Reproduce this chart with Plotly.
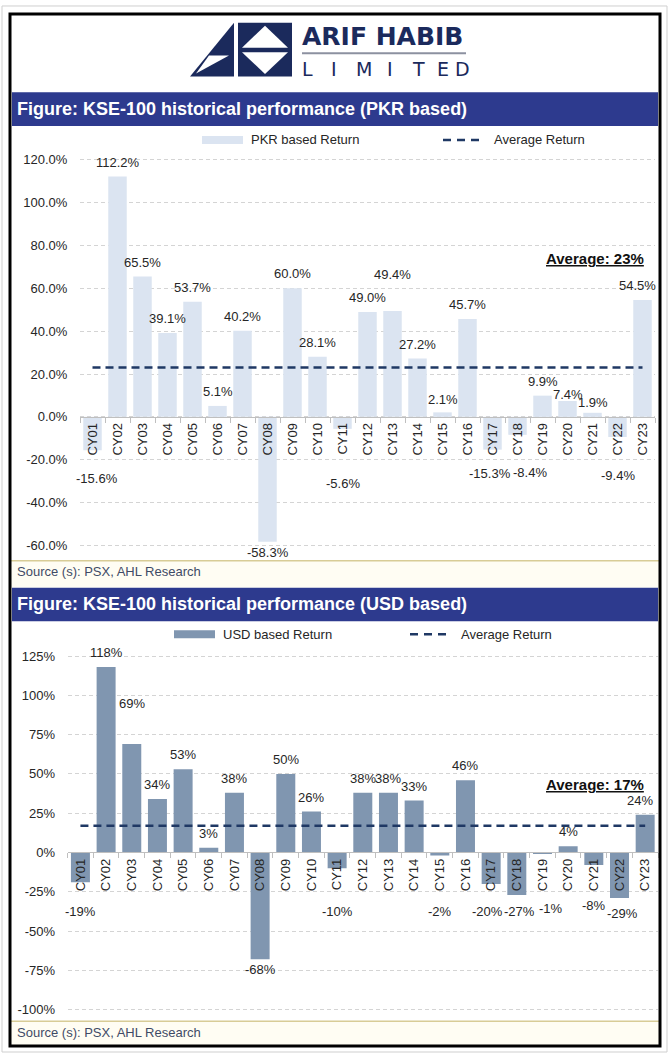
import plotly.graph_objects as go

# ---------------- data ----------------
categories = ["CY01", "CY02", "CY03", "CY04", "CY05", "CY06", "CY07", "CY08",
              "CY09", "CY10", "CY11", "CY12", "CY13", "CY14", "CY15", "CY16",
              "CY17", "CY18", "CY19", "CY20", "CY21", "CY22", "CY23"]
pkr_returns = [-15.6, 112.2, 65.5, 39.1, 53.7, 5.1, 40.2, -58.3, 60.0, 28.1, -5.6,
               49.0, 49.4, 27.2, 2.1, 45.7, -15.3, -8.4, 9.9, 7.4, 1.9, -9.4, 54.5]
usd_returns = [-19, 118, 69, 34, 53, 3, 38, -68, 50, 26, -10,
               38, 38, 33, -2, 46, -20, -27, -1, 4, -8, -29, 24]
pkr_average = 23
usd_average = 17
pkr_ticks = [-60, -40, -20, 0, 20, 40, 60, 80, 100, 120]
usd_ticks = [-100, -75, -50, -25, 0, 25, 50, 75, 100, 125]

title_pkr = "Figure: KSE-100 historical performance (PKR based)"
title_usd = "Figure: KSE-100 historical performance (USD based)"
legend_pkr = "PKR based Return"
legend_usd = "USD based Return"
legend_avg = "Average Return"
source_text = "Source (s): PSX, AHL Research"

# label nudges (pixels: dx, dy) to mimic hand-placed labels in the original
pkr_label_nudge = {"CY13": (0, 22), "CY17": (-3, 2), "CY18": (12, 3), "CY11": (0, -8),
                   "CY01": (4, -3), "CY20": (0, -8), "CY21": (0, -4), "CY15": (0, -2),
                   "CY23": (-5, 0)}
usd_label_nudge = {"CY03": (0, 26), "CY17": (-4, 0), "CY18": (3, 0), "CY19": (9, 3),
                   "CY21": (0, 6), "CY22": (3, -2), "CY23": (-5, 0)}

# ---------------- styling ----------------
W, H = 669, 1058
FONT = "Liberation Sans, Arial, sans-serif"
NAVY = "#1b2a5c"
BAR_BLUE = "#2d3a8e"
PKR_COLOR = "#dbe4f1"
USD_COLOR = "#8096b0"
AVG_COLOR = "#1f3864"
TXT = "#262626"
GRID = "#d4d4d4"


def fx(px):
    return px / W


def fy(py):
    return 1 - py / H


def ppath(points):
    return "M " + " L ".join(f"{fx(x):.5f},{fy(y):.5f}" for x, y in points) + " Z"


# chart geometry (pixel space)
c1 = dict(x0=80, x1=655, rmin=-62, rmax=122, ytop=157 - 2 * 388.5 / 180, ybot=545.5 + 2 * 388.5 / 180)
c2 = dict(x0=67.6, x1=658, rmin=-102, rmax=127, ytop=657 - 2 * 356.3 / 225, ybot=1013.3 + 2 * 356.3 / 225)

fig = go.Figure()

fig.add_trace(go.Bar(x=categories, y=pkr_returns, marker_color=PKR_COLOR, marker_line_width=0,
                     xaxis="x", yaxis="y", showlegend=False, hoverinfo="skip"))
fig.add_trace(go.Scatter(x=categories, y=[pkr_average] * len(categories), mode="lines",
                         line=dict(color=AVG_COLOR, width=2.5, dash="8px,5px"),
                         xaxis="x", yaxis="y", showlegend=False, hoverinfo="skip"))
fig.add_trace(go.Bar(x=categories, y=usd_returns, marker_color=USD_COLOR, marker_line_width=0,
                     xaxis="x2", yaxis="y2", showlegend=False, hoverinfo="skip"))
fig.add_trace(go.Scatter(x=categories, y=[usd_average] * len(categories), mode="lines",
                         line=dict(color=AVG_COLOR, width=2.5, dash="8px,5px"),
                         xaxis="x2", yaxis="y2", showlegend=False, hoverinfo="skip"))


def ydom(c):
    return [fy(c["ybot"]), fy(c["ytop"])]


def zero_pos(c):
    d = ydom(c)
    return d[0] + (0 - c["rmin"]) / (c["rmax"] - c["rmin"]) * (d[1] - d[0])


xaxis_common = dict(type="category", showgrid=False, zeroline=False, showline=True,
                    linecolor="#bfbfbf", linewidth=1, ticks="outside", tickson="boundaries",
                    ticklen=5, tickcolor="#bfbfbf", tickangle=-90,
                    range=[-0.5, len(categories) - 0.5], autorange=False,
                    tickfont=dict(family=FONT, size=13, color=TXT), anchor="free")
yaxis_common = dict(showgrid=True, gridcolor=GRID, griddash="4px,3px", gridwidth=1,
                    zeroline=False, showline=False, ticks="outside", ticklen=10,
                    tickcolor="rgba(0,0,0,0)", tickfont=dict(family=FONT, size=13, color=TXT))

fig.update_layout(
    width=W, height=H, autosize=False,
    margin=dict(l=0, r=0, t=0, b=0),
    paper_bgcolor="white", plot_bgcolor="rgba(0,0,0,0)",
    bargap=0.26,
    xaxis=dict(xaxis_common, domain=[fx(c1["x0"]), fx(c1["x1"])], position=zero_pos(c1)),
    yaxis=dict(yaxis_common, domain=ydom(c1), range=[c1["rmin"], c1["rmax"]],
               tickvals=pkr_ticks, ticktext=[f"{v:.1f}%" for v in pkr_ticks], anchor="free",
               position=fx(c1["x0"])),
    xaxis2=dict(xaxis_common, domain=[fx(c2["x0"]), fx(c2["x1"])], position=zero_pos(c2)),
    yaxis2=dict(yaxis_common, domain=ydom(c2), range=[c2["rmin"], c2["rmax"]],
                tickvals=usd_ticks, ticktext=[f"{v}%" for v in usd_ticks], anchor="free",
                position=fx(c2["x0"])),
)

annotations = []
shapes = []


def add_labels(values, fmt, xref, yref, floor, nudges):
    for cat, v in zip(categories, values):
        dx, dy = nudges.get(cat, (0, 0))
        if v >= 0:
            annotations.append(dict(x=cat, y=v, xref=xref, yref=yref, text=fmt(v),
                                    showarrow=False, yanchor="bottom", yshift=5 + dy, xshift=dx,
                                    font=dict(family=FONT, size=13, color=TXT)))
        else:
            annotations.append(dict(x=cat, y=min(v, floor), xref=xref, yref=yref, text=fmt(v),
                                    showarrow=False, yanchor="top", yshift=-1 + dy, xshift=dx,
                                    font=dict(family=FONT, size=13, color=TXT)))


add_labels(pkr_returns, lambda v: f"{v:.1f}%", "x", "y", -22.5, pkr_label_nudge)
add_labels(usd_returns, lambda v: f"{v:.0f}%", "x2", "y2", -31, usd_label_nudge)

# average notes
annotations.append(dict(x=fx(646), y=fy(256), xref="paper", yref="paper", xanchor="right",
                        yanchor="middle", showarrow=False,
                        text=f"<b><u>Average: {pkr_average}%</u></b>",
                        font=dict(family=FONT, size=15, color="#111111")))
annotations.append(dict(x=fx(646), y=fy(786), xref="paper", yref="paper", xanchor="right",
                        yanchor="middle", showarrow=False,
                        text=f"<b><u>Average: {usd_average}%</u></b>",
                        font=dict(family=FONT, size=15, color="#111111")))

# title bars
for ytop, title in [(89, title_pkr), (588, title_usd)]:
    shapes.append(dict(type="rect", xref="paper", yref="paper", x0=fx(12), x1=fx(658),
                       y0=fy(ytop + 34), y1=fy(ytop), fillcolor=BAR_BLUE, line_width=0, layer="below"))
    annotations.append(dict(x=fx(15), y=fy(ytop + 17), xref="paper", yref="paper", xanchor="left",
                            yanchor="middle", showarrow=False, text=f"<b>{title}</b>",
                            font=dict(family=FONT, size=18, color="white")))


def add_legend(yc, sw_x0, sw_x1, color, label, label_x, dash_x0, dash_x1, avg_x):
    shapes.append(dict(type="rect", xref="paper", yref="paper", x0=fx(sw_x0), x1=fx(sw_x1),
                       y0=fy(yc + 4), y1=fy(yc - 4), fillcolor=color, line_width=0))
    annotations.append(dict(x=fx(label_x), y=fy(yc), xref="paper", yref="paper", xanchor="left",
                            yanchor="middle", showarrow=False, text=label,
                            font=dict(family=FONT, size=13, color=TXT)))
    shapes.append(dict(type="line", xref="paper", yref="paper", x0=fx(dash_x0), x1=fx(dash_x1),
                       y0=fy(yc), y1=fy(yc), line=dict(color=AVG_COLOR, width=2.5, dash="8px,6px")))
    annotations.append(dict(x=fx(avg_x), y=fy(yc), xref="paper", yref="paper", xanchor="left",
                            yanchor="middle", showarrow=False, text=legend_avg,
                            font=dict(family=FONT, size=13, color=TXT)))


add_legend(137, 202, 243, PKR_COLOR, legend_pkr, 249, 443, 480, 492)
add_legend(635, 174, 215, USD_COLOR, legend_usd, 221, 410, 450, 459)

# source areas
for yline, ybottom in [(561, 588), (1025, 1049)]:
    shapes.append(dict(type="rect", xref="paper", yref="paper", x0=fx(11), x1=fx(659),
                       y0=fy(ybottom), y1=fy(yline), fillcolor="#fffdf3", line_width=0, layer="below"))
    shapes.append(dict(type="line", xref="paper", yref="paper", x0=fx(11), x1=fx(659),
                       y0=fy(yline), y1=fy(yline), line=dict(color="#d8cc96", width=1.5)))
    annotations.append(dict(x=fx(15), y=fy(yline + 11), xref="paper", yref="paper", xanchor="left",
                            yanchor="middle", showarrow=False, text=source_text,
                            font=dict(family=FONT, size=13, color="#3f4b66")))

# outer frame
shapes.append(dict(type="rect", xref="paper", yref="paper", x0=fx(2), x1=fx(667),
                   y0=fy(1056), y1=fy(2), line=dict(color="#cfcfcf", width=1)))
shapes.append(dict(type="rect", xref="paper", yref="paper", x0=fx(10), x1=fx(660),
                   y0=fy(1050), y1=fy(10), line=dict(color="black", width=3)))

# logo
shapes.append(dict(type="path", xref="paper", yref="paper",
                   path=ppath([(190, 73), (234, 19), (234, 73)]), fillcolor=NAVY, line_width=0))
shapes.append(dict(type="path", xref="paper", yref="paper",
                   path=ppath([(209, 52), (229, 52), (196, 70)]), fillcolor="white", line_width=0))
shapes.append(dict(type="rect", xref="paper", yref="paper", x0=fx(238), x1=fx(292),
                   y0=fy(73), y1=fy(19), fillcolor=NAVY, line_width=0))
shapes.append(dict(type="path", xref="paper", yref="paper",
                   path=ppath([(265, 22), (242, 44), (288, 44)]), fillcolor="white", line_width=0))
shapes.append(dict(type="path", xref="paper", yref="paper",
                   path=ppath([(242, 48.5), (288, 48.5), (265, 70.5)]), fillcolor="white", line_width=0))
annotations.append(dict(x=fx(300), y=fy(33), xref="paper", yref="paper", xanchor="left",
                        yanchor="middle", showarrow=False, text="<b>ARIF HABIB</b>",
                        font=dict(family="DejaVu Sans", size=25, color=NAVY)))
shapes.append(dict(type="line", xref="paper", yref="paper", x0=fx(302), x1=fx(466),
                   y0=fy(49.5), y1=fy(49.5), line=dict(color="#8c91a0", width=2)))
for ch, cx in zip("LIMITED", [307.5, 333.5, 364, 390.5, 418.5, 443, 462]):
    annotations.append(dict(x=fx(cx), y=fy(65), xref="paper", yref="paper", xanchor="center",
                            yanchor="middle", showarrow=False, text=ch,
                            font=dict(family="DejaVu Sans", size=19, color=NAVY)))

fig.update_layout(annotations=annotations, shapes=shapes)
fig.write_html("out.html", config={"displayModeBar": False},
               post_script="document.body.style.margin='0px';document.body.style.overflow='hidden';")
